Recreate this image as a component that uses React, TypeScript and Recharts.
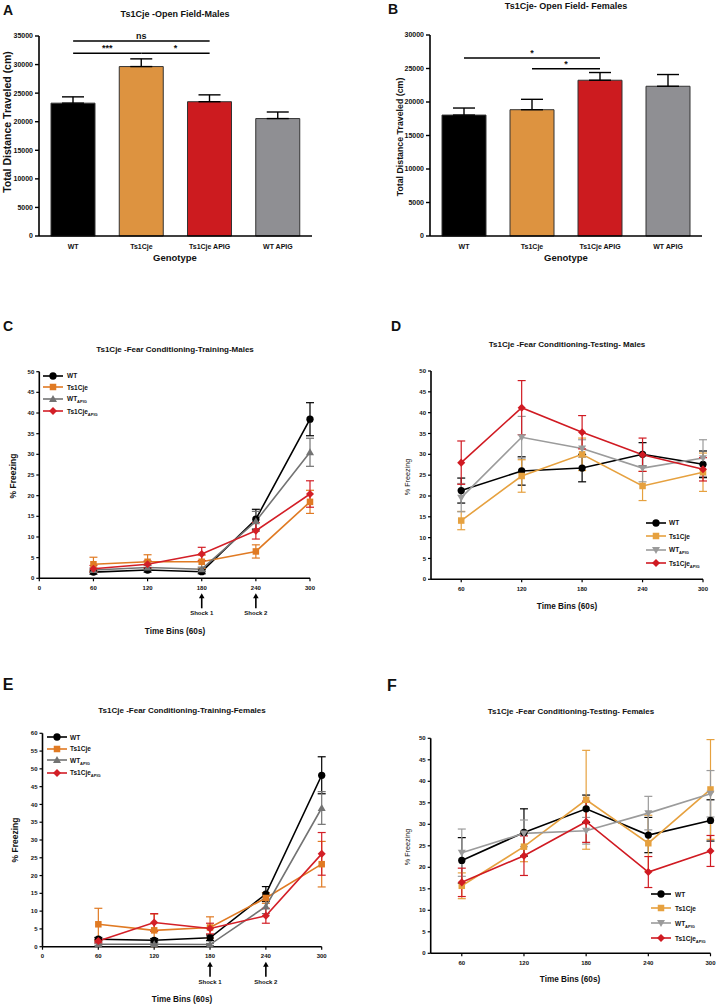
import React from 'react';
import { BarChart, Bar, Cell, LineChart, Line, XAxis, YAxis, ErrorBar, ReferenceLine, Legend } from 'recharts';

const FONT = '"Liberation Sans", Arial, Helvetica, sans-serif';

// ---------- Open field (bars) ----------
const genotypes = ['WT', 'Ts1Cje', 'Ts1Cje APIG', 'WT APIG'];
const barColors = ['#000000', '#DD9340', '#CC1B1F', '#8F8F93'];
const ofMalesMean = [23250, 29650, 23500, 20550];
const ofMalesSem = [1100, 1350, 1200, 1150];
const ofFemalesMean = [18050, 18850, 23250, 22350];
const ofFemalesSem = [1050, 1550, 1150, 1750];
const ofMalesTicks = [0, 5000, 10000, 15000, 20000, 25000, 30000, 35000];
const ofFemalesTicks = [0, 5000, 10000, 15000, 20000, 25000, 30000];

// ---------- Fear conditioning (lines) ----------
const timeBins = [60, 120, 180, 240, 300];
const trainTicks = [0, 60, 120, 180, 240, 300];
const testTicks = [60, 120, 180, 240, 300];
const ticks50 = [0, 5, 10, 15, 20, 25, 30, 35, 40, 45, 50];
const ticks60 = [0, 5, 10, 15, 20, 25, 30, 35, 40, 45, 50, 55, 60];

// C: training males
const cWT = [1.5, 2.0, 1.6, 14.3, 38.5];
const cWTErr = [0.5, 0.5, 0.5, 2.4, 4.0];
const cTs = [3.4, 4.0, 4.0, 6.5, 18.5];
const cTsErr = [1.7, 1.7, 1.6, 1.6, 2.8];
const cWTA = [2.0, 2.6, 2.2, 13.8, 30.5];
const cWTAErr = [0.5, 0.5, 0.5, 2.4, 3.4];
const cTsA = [2.3, 3.4, 5.9, 11.5, 20.4];
const cTsAErr = [0.8, 0.8, 1.6, 2.0, 3.2];

// D: testing males
const dWT = [21.3, 26.0, 26.7, 30.0, 27.6];
const dWTErr = [3.0, 3.4, 3.3, 2.8, 3.2];
const dTs = [14.1, 24.8, 30.0, 22.4, 25.7];
const dTsErr = [2.2, 3.9, 3.9, 3.5, 4.6];
const dWTA = [19.6, 34.1, 31.4, 26.7, 29.1];
const dWTAErr = [3.4, 5.0, 2.1, 3.3, 4.4];
const dTsA = [28.0, 41.2, 35.3, 29.9, 26.4];
const dTsAErr = [5.2, 6.5, 4.0, 4.0, 2.8];

// E: training females
const eWT = [2.1, 1.8, 2.5, 14.8, 48.2];
const eWTErr = [0.5, 0.5, 0.8, 2.1, 5.2];
const eTs = [6.3, 4.6, 5.4, 13.7, 23.2];
const eTsErr = [4.5, 4.6, 3.0, 1.5, 6.4];
const eWTA = [0.7, 0.7, 0.6, 11.3, 39.0];
const eWTAErr = [0.3, 0.3, 0.3, 2.0, 4.6];
const eTsA = [1.6, 6.8, 5.1, 8.7, 26.1];
const eTsAErr = [0.5, 2.5, 1.5, 2.1, 6.0];

// F: testing females
const fWT = [21.6, 28.1, 33.6, 27.5, 30.9];
const fWTErr = [5.3, 5.5, 3.2, 4.1, 4.8];
const fTs = [15.7, 24.8, 35.7, 25.6, 38.1];
const fTsErr = [3.0, 3.5, 11.5, 6.5, 11.6];
const fWTA = [23.4, 27.9, 28.5, 32.6, 37.1];
const fWTAErr = [5.5, 3.1, 3.1, 3.9, 5.4];
const fTsA = [16.5, 22.7, 30.6, 18.9, 23.8];
const fTsAErr = [3.3, 4.6, 4.8, 3.6, 3.6];

const darkPalette = { wt: '#000000', ts: '#E07A23', wta: '#737373', tsa: '#D31F27' };
const lightPalette = { wt: '#000000', ts: '#E6A13F', wta: '#9B9B9B', tsa: '#D01A22' };

type Shape = 'circle' | 'square' | 'triUp' | 'triDown' | 'diamond';
type Series = { name: string; sub?: string; color: string; shape: Shape; values: number[]; errs: number[] };

function makeSeries(pal: any, triangle: Shape, v: number[][]): Series[] {
  return [
    { name: 'WT', color: pal.wt, shape: 'circle', values: v[0], errs: v[1] },
    { name: 'Ts1Cje', color: pal.ts, shape: 'square', values: v[2], errs: v[3] },
    { name: 'WT', sub: 'APIG', color: pal.wta, shape: triangle, values: v[4], errs: v[5] },
    { name: 'Ts1Cje', sub: 'APIG', color: pal.tsa, shape: 'diamond', values: v[6], errs: v[7] },
  ];
}

const seriesC = makeSeries(darkPalette, 'triUp', [cWT, cWTErr, cTs, cTsErr, cWTA, cWTAErr, cTsA, cTsAErr]);
const seriesD = makeSeries(lightPalette, 'triDown', [dWT, dWTErr, dTs, dTsErr, dWTA, dWTAErr, dTsA, dTsAErr]);
const seriesE = makeSeries(darkPalette, 'triUp', [eWT, eWTErr, eTs, eTsErr, eWTA, eWTAErr, eTsA, eTsAErr]);
const seriesF = makeSeries(lightPalette, 'triDown', [fWT, fWTErr, fTs, fTsErr, fWTA, fWTAErr, fTsA, fTsAErr]);

function Marker({ shape, cx, cy, color, s }: { shape: Shape; cx: number; cy: number; color: string; s: number }) {
  switch (shape) {
    case 'circle':
      return <circle cx={cx} cy={cy} r={s * 0.56} fill={color} />;
    case 'square':
      return <rect x={cx - s / 2} y={cy - s / 2} width={s} height={s} fill={color} />;
    case 'triUp':
      return <polygon points={`${cx},${cy - s * 0.62} ${cx - s * 0.62},${cy + s * 0.45} ${cx + s * 0.62},${cy + s * 0.45}`} fill={color} />;
    case 'triDown':
      return <polygon points={`${cx},${cy + s * 0.62} ${cx - s * 0.62},${cy - s * 0.45} ${cx + s * 0.62},${cy - s * 0.45}`} fill={color} />;
    case 'diamond':
    default:
      return <polygon points={`${cx},${cy - s * 0.62} ${cx + s * 0.62},${cy} ${cx},${cy + s * 0.62} ${cx - s * 0.62},${cy}`} fill={color} />;
  }
}

const Txt = ({ x, y, size, children, rotate, weight = 'bold', color = '#111' }: any) => (
  <div
    style={{
      position: 'absolute',
      left: x,
      top: y,
      transform: `translate(-50%,-50%)${rotate ? ' rotate(-90deg)' : ''}`,
      fontSize: size,
      fontWeight: weight,
      fontFamily: FONT,
      whiteSpace: 'nowrap',
      lineHeight: 1,
      color,
    }}
  >
    {children}
  </div>
);

// ---------- Bar panel ----------
function BarPanel({ left, top, width, height, mTop, mRight, yW, xH, domainMax, ticks, means, sems, sig, tickSize }: any) {
  const data = genotypes.map((g, i) => ({ g, v: means[i], e: [0, sems[i]] }));
  return (
    <div style={{ position: 'absolute', left, top }}>
      <BarChart width={width} height={height} data={data} margin={{ top: mTop, right: mRight, left: 0, bottom: 0 }} barCategoryGap={12}>
        <XAxis
          dataKey="g"
          height={xH}
          stroke="#000"
          tickLine={false}
          axisLine={{ stroke: '#000', strokeWidth: 1.6 }}
          tick={{ fontSize: 7, fontWeight: 'bold', fill: '#111', fontFamily: FONT }}
          tickMargin={2}
          interval={0}
        />
        <YAxis
          width={yW}
          domain={[0, domainMax]}
          ticks={ticks}
          interval={0}
          tickSize={4}
          tickMargin={2}
          stroke="#000"
          axisLine={{ stroke: '#000', strokeWidth: 1.6 }}
          tickLine={{ stroke: '#000', strokeWidth: 1.4 }}
          tick={{ fontSize: tickSize, fontWeight: 'bold', fill: '#111', fontFamily: FONT }}
        />
        <Bar dataKey="v" stroke="#333" strokeWidth={1} isAnimationActive={false}>
          {data.map((d, i) => (
            <Cell key={d.g} fill={barColors[i]} />
          ))}
          <ErrorBar dataKey="e" width={11} stroke="#000" strokeWidth={1.4} />
        </Bar>
        {sig.map((s: any, i: number) => (
          <ReferenceLine
            key={i}
            segment={[{ x: s.from, y: s.y }, { x: s.to, y: s.y }]}
            stroke="#000"
            strokeWidth={1.6}
            ifOverflow="visible"
            label={{ value: s.label, position: 'top', offset: 2, fill: '#111', fontSize: 9, fontWeight: 'bold', fontFamily: FONT }}
          />
        ))}
      </BarChart>
    </div>
  );
}

// ---------- Line panel ----------
function LegendBox({ series, rowH, gap }: { series: Series[]; rowH: number[]; gap: number }) {
  return (
    <div style={{ fontFamily: FONT, fontWeight: 'bold', fontSize: 6.5, color: '#111' }}>
      {series.map((s, i) => (
        <div key={i} style={{ display: 'flex', alignItems: 'center', height: rowH[i] }}>
          <svg width={20} height={10} style={{ display: 'block' }}>
            <line x1={0} x2={20} y1={5} y2={5} stroke={s.color} strokeWidth={1.6} />
            <Marker shape={s.shape} cx={10} cy={5} color={s.color} s={6.5} />
          </svg>
          <span style={{ marginLeft: gap, whiteSpace: 'nowrap' }}>
            {s.name}
            {s.sub && <span style={{ fontSize: 4, position: 'relative', top: 2 }}>{s.sub}</span>}
          </span>
        </div>
      ))}
    </div>
  );
}

function makeTick(shocks: Record<number, string>) {
  return (props: any) => {
    const { x, y, payload } = props;
    const lbl = shocks[payload.value];
    return (
      <g>
        <text x={x} y={y} dy="0.71em" textAnchor="middle" fontSize={6} fontWeight="bold" fill="#111" fontFamily={FONT}>
          {payload.value}
        </text>
        {lbl && (
          <g>
            <line x1={x} x2={x} y1={y + 23} y2={y + 11} stroke="#000" strokeWidth={1.6} />
            <polygon points={`${x},${y + 8} ${x - 2.8},${y + 13} ${x + 2.8},${y + 13}`} fill="#000" />
            <text x={x} y={y + 30} textAnchor="middle" fontSize={6} fontWeight="bold" fill="#111" fontFamily={FONT}>
              {lbl}
            </text>
          </g>
        )}
      </g>
    );
  };
}

function LinePanel({ left, top, width, height, mTop, mRight, yW, xH, xDomain, xTicks, yMax, yTicks, series, shocks, legend }: any) {
  const data = timeBins.map((t, i) => {
    const row: any = { t };
    series.forEach((s: Series, k: number) => {
      row['s' + k] = s.values[i];
      row['e' + k] = s.errs[i];
    });
    return row;
  });
  return (
    <div style={{ position: 'absolute', left, top }}>
      <LineChart width={width} height={height} data={data} margin={{ top: mTop, right: mRight, left: 0, bottom: 0 }}>
        <XAxis
          dataKey="t"
          type="number"
          domain={xDomain}
          ticks={xTicks}
          interval={0}
          height={xH}
          tickSize={3}
          tickMargin={4}
          stroke="#000"
          axisLine={{ stroke: '#000', strokeWidth: 1.6 }}
          tickLine={{ stroke: '#000', strokeWidth: 1.2 }}
          tick={makeTick(shocks || {})}
        />
        <YAxis
          width={yW}
          domain={[0, yMax]}
          ticks={yTicks}
          interval={0}
          tickSize={3}
          tickMargin={2}
          stroke="#000"
          axisLine={{ stroke: '#000', strokeWidth: 1.6 }}
          tickLine={{ stroke: '#000', strokeWidth: 1.2 }}
          tick={{ fontSize: 6, fontWeight: 'bold', fill: '#111', fontFamily: FONT }}
        />
        {series.map((s: Series, k: number) => (
          <Line
            key={k}
            dataKey={'s' + k}
            stroke={s.color}
            strokeWidth={1.6}
            isAnimationActive={false}
            dot={(p: any) =>
              p.cx == null ? <g key={`d${k}-${p.index}`} /> : (
                <g key={`d${k}-${p.index}`}>
                  <Marker shape={s.shape} cx={p.cx} cy={p.cy} color={s.color} s={6.5} />
                </g>
              )
            }
            activeDot={false}
          >
            <ErrorBar dataKey={'e' + k} direction="y" width={4} stroke={s.color} strokeWidth={1.2} />
          </Line>
        ))}
        <Legend
          layout="vertical"
          align="center"
          verticalAlign="middle"
          wrapperStyle={{ left: legend.left, top: legend.top, width: 'auto', height: 'auto' }}
          content={() => <LegendBox series={series} rowH={legend.rowH} gap={legend.gap} />}
        />
      </LineChart>
    </div>
  );
}

export default function App() {
  return (
    <div style={{ position: 'absolute', left: 0, top: 0, width: 718, height: 1008, background: '#fff', overflow: 'hidden', fontFamily: FONT }}>
      {/* Panel A */}
      <BarPanel
        left={0}
        top={0}
        width={360}
        height={270}
        mTop={36}
        mRight={48}
        yW={39}
        xH={34}
        domainMax={35000}
        ticks={ofMalesTicks}
        means={ofMalesMean}
        sems={ofMalesSem}
        tickSize={7}
        sig={[
          { from: 'WT', to: 'Ts1Cje APIG', y: 34125, label: 'ns' },
          { from: 'WT', to: 'Ts1Cje', y: 31970, label: '***' },
          { from: 'Ts1Cje', to: 'Ts1Cje APIG', y: 31970, label: '*' },
        ]}
      />
      <Txt x={8} y={10} size={14}>A</Txt>
      <Txt x={175} y={14} size={9}>Ts1Cje -Open Field-Males</Txt>
      <Txt x={7} y={122} size={10.5} rotate>Total Distance Traveled (cm)</Txt>
      <Txt x={175} y={258} size={9.5}>Genotype</Txt>

      {/* Panel B */}
      <BarPanel
        left={358}
        top={0}
        width={360}
        height={270}
        mTop={35}
        mRight={16}
        yW={72}
        xH={34}
        domainMax={30000}
        ticks={ofFemalesTicks}
        means={ofFemalesMean}
        sems={ofFemalesSem}
        tickSize={7}
        sig={[
          { from: 'WT', to: 'Ts1Cje APIG', y: 26560, label: '*' },
          { from: 'Ts1Cje', to: 'Ts1Cje APIG', y: 24960, label: '*' },
        ]}
      />
      <Txt x={393} y={9} size={14}>B</Txt>
      <Txt x={566} y={6} size={9}>Ts1Cje- Open Field- Females</Txt>
      <Txt x={400} y={137} size={8.8} rotate>Total Distance Traveled (cm)</Txt>
      <Txt x={566} y={258} size={9.5}>Genotype</Txt>

      {/* Panel C */}
      <LinePanel
        left={0}
        top={330}
        width={360}
        height={310}
        mTop={41.7}
        mRight={50}
        yW={39.3}
        xH={61.7}
        xDomain={[0, 300]}
        xTicks={trainTicks}
        yMax={50}
        yTicks={ticks50}
        series={seriesC}
        shocks={{ 180: 'Shock 1', 240: 'Shock 2' }}
        legend={{ left: 43, top: 40, rowH: [11.6, 11.6, 11.6, 13], gap: 4 }}
      />
      <Txt x={8} y={326} size={14}>C</Txt>
      <Txt x={175} y={350} size={8}>Ts1Cje -Fear Conditioning-Training-Males</Txt>
      <Txt x={13} y={476} size={8.5} rotate>% Freezing</Txt>
      <Txt x={175} y={632} size={8.2}>Time Bins (60s)</Txt>

      {/* Panel D */}
      <LinePanel
        left={358}
        top={330}
        width={360}
        height={310}
        mTop={41}
        mRight={15}
        yW={73}
        xH={60.7}
        xDomain={[30, 300]}
        xTicks={testTicks}
        yMax={50}
        yTicks={ticks50}
        series={seriesD}
        legend={{ left: 288, top: 186, rowH: [13.5, 13.5, 13.5, 13.5], gap: 3 }}
      />
      <Txt x={396} y={326} size={14}>D</Txt>
      <Txt x={567} y={345} size={8}>Ts1Cje -Fear Conditioning-Testing- Males</Txt>
      <Txt x={408} y={477} size={7.2} weight="normal" rotate>% Freezing</Txt>
      <Txt x={567} y={607} size={8.2}>Time Bins (60s)</Txt>

      {/* Panel E */}
      <LinePanel
        left={0}
        top={640}
        width={360}
        height={368}
        mTop={93.3}
        mRight={38.3}
        yW={42.5}
        xH={61.3}
        xDomain={[0, 300]}
        xTicks={trainTicks}
        yMax={60}
        yTicks={ticks60}
        series={seriesE}
        shocks={{ 180: 'Shock 1', 240: 'Shock 2' }}
        legend={{ left: 47, top: 91.5, rowH: [11.5, 11.5, 11.8, 13], gap: 3 }}
      />
      <Txt x={8} y={685} size={16}>E</Txt>
      <Txt x={182} y={711} size={8}>Ts1Cje -Fear Conditioning-Training-Females</Txt>
      <Txt x={15} y={840} size={8.5} rotate>% Freezing</Txt>
      <Txt x={182} y={1000} size={8.2}>Time Bins (60s)</Txt>

      {/* Panel F */}
      <LinePanel
        left={358}
        top={640}
        width={360}
        height={368}
        mTop={98.3}
        mRight={7.5}
        yW={72.7}
        xH={54.7}
        xDomain={[30, 300]}
        xTicks={testTicks}
        yMax={50}
        yTicks={ticks50}
        series={seriesF}
        legend={{ left: 293, top: 247, rowH: [14, 14.4, 16, 14], gap: 4 }}
      />
      <Txt x={392} y={686} size={16}>F</Txt>
      <Txt x={571} y={712} size={8}>Ts1Cje -Fear Conditioning-Testing- Females</Txt>
      <Txt x={408} y={847} size={7.2} weight="normal" rotate>% Freezing</Txt>
      <Txt x={570} y={980} size={8.2}>Time Bins (60s)</Txt>
    </div>
  );
}
